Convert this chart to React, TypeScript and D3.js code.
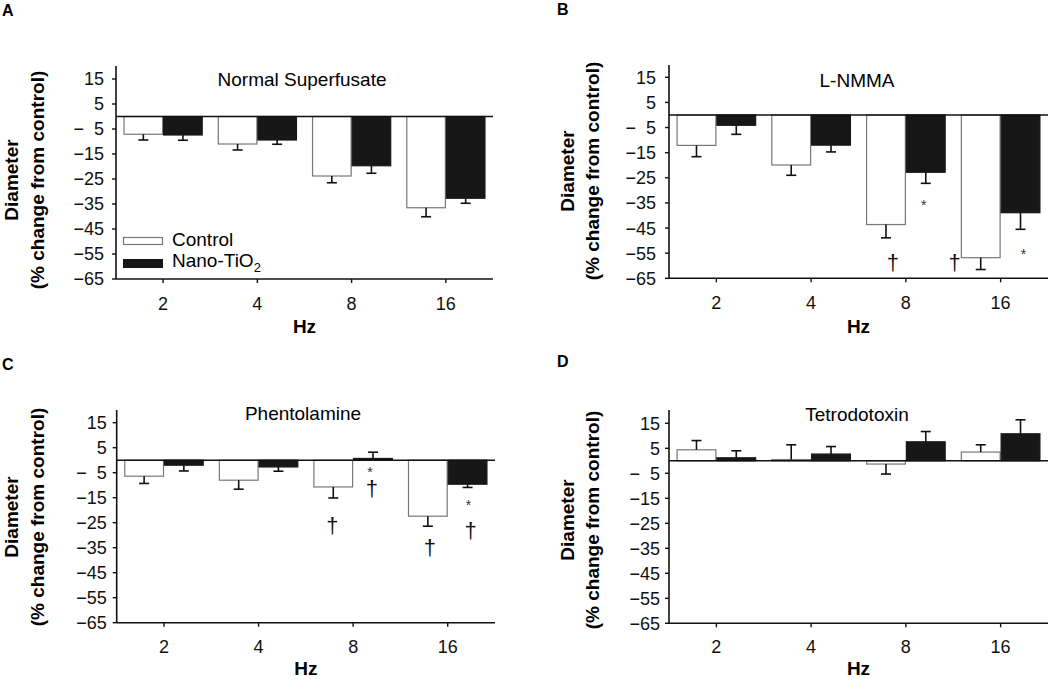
import React from 'react';
import * as d3 from 'd3';

// categories and tick labels
const frequencies = ['2', '4', '8', '16'];
const yTicks = [15, 5, -5, -15, -25, -35, -45, -55, -65];
const seriesNames = ['Control', 'Nano-TiO2'];

// A: normal superfusate (mean, SEM)
const normalControl = [-7.1, -11.0, -23.8, -36.5];
const normalControlErr = [2.3, 2.4, 2.7, 3.6];
const normalNano = [-7.4, -9.4, -19.7, -32.7];
const normalNanoErr = [2.1, 1.7, 3.0, 2.0];

// B: L-NMMA
const lnmmaControl = [-12.1, -19.9, -43.6, -56.8];
const lnmmaControlErr = [4.5, 4.1, 5.3, 4.7];
const lnmmaNano = [-4.1, -12.0, -22.8, -38.9];
const lnmmaNanoErr = [3.6, 2.7, 4.4, 6.6];

// C: phentolamine
const phentControl = [-6.4, -8.0, -10.7, -22.4];
const phentControlErr = [2.9, 3.6, 4.4, 4.0];
const phentNano = [-2.0, -2.7, 0.7, -9.6];
const phentNanoErr = [2.3, 1.7, 2.5, 1.3];

// D: tetrodotoxin
const ttxControl = [4.4, 0.5, -1.3, 3.5];
const ttxControlErr = [3.7, 5.9, 4.0, 2.9];
const ttxNano = [1.2, 2.7, 7.6, 10.8];
const ttxNanoErr = [2.8, 3.0, 4.1, 5.6];

type Mark = { group: number; series: number; symbol: string; y: number; dx: number };

const lnmmaMarks: Mark[] = [
  { group: 2, series: 1, symbol: '*', y: -35, dx: -2 },
  { group: 2, series: 0, symbol: '†', y: -59.5, dx: 7 },
  { group: 3, series: 0, symbol: '†', y: -59.5, dx: -26 },
  { group: 3, series: 1, symbol: '*', y: -54.7, dx: 3 },
];

const phentMarks: Mark[] = [
  { group: 2, series: 1, symbol: '*', y: -4, dx: -3 },
  { group: 2, series: 1, symbol: '†', y: -12, dx: -1 },
  { group: 2, series: 0, symbol: '†', y: -26.7, dx: -1 },
  { group: 3, series: 0, symbol: '†', y: -35.6, dx: 2 },
  { group: 3, series: 1, symbol: '*', y: -17.2, dx: 1 },
  { group: 3, series: 1, symbol: '†', y: -28.7, dx: 3 },
];

const FONT = '"Liberation Sans", Arial, Helvetica, sans-serif';

interface PanelProps {
  letter: string;
  title: string;
  control: number[];
  controlErr: number[];
  nano: number[];
  nanoErr: number[];
  marks?: Mark[];
  legend?: boolean;
  layout: {
    x0: number; x1: number; y15: number; y65: number; axisTop: number;
    titleX: number; titleY: number; labelGap: number;
    ytX: [number, number]; ytY: number; hzY: number; tickY: number;
    letterX: number; letterY: number;
  };
}

const fmt = (d: number) => {
  const a = Math.abs(d);
  if (d < 0) return '\u2212' + (a < 10 ? '\u2007' : '') + a;
  return String(a);
};

const Panel: React.FC<PanelProps> = ({ letter, title, control, controlErr, nano, nanoErr, marks = [], legend, layout }) => {
  const L = layout;
  const x = d3.scaleBand<string>().domain(frequencies).range([L.x0, L.x1]).paddingInner(0.16).paddingOuter(0.08);
  const outer = d3.scaleBand<string>().domain(frequencies).range([L.x0, L.x1]);
  const inner = d3.scaleBand<number>().domain([0, 1]).range([0, x.bandwidth()]);
  const y = d3.scaleLinear().domain([-65, 15]).range([L.y65, L.y15]);
  const zero = y(0);
  const bw = inner.bandwidth();
  const series = [
    { vals: control, errs: controlErr, fill: '#ffffff', stroke: '#777777' },
    { vals: nano, errs: nanoErr, fill: '#171717', stroke: '#171717' },
  ];
  const center = (g: number, s: number) => (x(frequencies[g]) as number) + (inner(s) as number) + bw / 2;

  return (
    <g fontFamily={FONT}>
      <text x={L.letterX} y={L.letterY} fontSize={16} fontWeight="bold">{letter}</text>
      <text x={L.titleX} y={L.titleY} fontSize={19} textAnchor="middle">{title}</text>

      {series.map((s, si) =>
        s.vals.map((v, gi) => {
          const cx = center(gi, si);
          const yv = y(v);
          const dir = v >= 0 ? 1 : -1;
          const ye = y(v + dir * s.errs[gi]);
          return (
            <g key={`${si}-${gi}`}>
              <rect
                x={cx - bw / 2 + 0.5}
                y={Math.min(zero, yv)}
                width={bw - 1}
                height={Math.abs(yv - zero)}
                fill={s.fill}
                stroke={s.stroke}
                strokeWidth={1.2}
              />
              <line x1={cx} x2={cx} y1={yv} y2={ye} stroke="#111" strokeWidth={1.6} />
              <line x1={cx - 5} x2={cx + 5} y1={ye} y2={ye} stroke="#111" strokeWidth={1.6} />
            </g>
          );
        })
      )}

      {/* zero line */}
      <line x1={L.x0} x2={L.x1} y1={zero} y2={zero} stroke="#111" strokeWidth={1.6} />

      {/* y axis */}
      <line x1={L.x0} x2={L.x0} y1={L.axisTop} y2={L.y65} stroke="#111" strokeWidth={1.6} />
      {yTicks.map((t) => (
        <g key={t}>
          <line x1={L.x0 - 4} x2={L.x0} y1={y(t)} y2={y(t)} stroke="#111" strokeWidth={1.4} />
          <text x={L.x0 - L.labelGap} y={y(t)} dy="0.36em" fontSize={18} textAnchor="end" fill="#111">{fmt(t)}</text>
        </g>
      ))}

      {/* x axis */}
      <line x1={L.x0} x2={L.x1} y1={L.y65} y2={L.y65} stroke="#111" strokeWidth={1.6} />
      {frequencies.map((f) => {
        const tx = (outer(f) as number) + outer.bandwidth() / 2;
        return (
          <g key={f}>
            <line x1={tx} x2={tx} y1={L.y65} y2={L.y65 + 4} stroke="#111" strokeWidth={1.4} />
            <text x={tx} y={L.tickY} fontSize={18} textAnchor="middle" fill="#111">{f}</text>
          </g>
        );
      })}
      <text x={(L.x0 + L.x1) / 2} y={L.hzY} fontSize={19} fontWeight="bold" textAnchor="middle">Hz</text>

      {/* y title */}
      <text transform={`translate(${L.ytX[0]},${L.ytY}) rotate(-90)`} fontSize={19} fontWeight="bold" textAnchor="middle" dominantBaseline="central">Diameter</text>
      <text transform={`translate(${L.ytX[1]},${L.ytY}) rotate(-90)`} fontSize={19} fontWeight="bold" textAnchor="middle" dominantBaseline="central">(% change from control)</text>

      {marks.map((m, i) => {
        const mx = center(m.group, m.series) + m.dx;
        const my = y(m.y);
        return m.symbol === '*' ? (
          <text key={i} x={mx} y={my + 7} fontSize={14} textAnchor="middle" fill="#333">*</text>
        ) : (
          <text key={i} x={mx} y={my + 6} fontSize={22} textAnchor="middle" fill="#111">†</text>
        );
      })}

      {legend && (
        <g>
          <rect x={L.x0 + 7.5} y={237.5} width={39} height={7} fill="#fff" stroke="#777" strokeWidth={1.2} />
          <rect x={L.x0 + 7} y={259} width={40} height={9} fill="#171717" />
          <text x={L.x0 + 56} y={246} fontSize={19}>{seriesNames[0]}</text>
          <text x={L.x0 + 56} y={267} fontSize={19}>
            Nano-TiO<tspan fontSize={13} dy={5}>2</tspan>
          </text>
        </g>
      )}
    </g>
  );
};

export default function App() {
  return (
    <svg width={1050} height={679} style={{ position: 'absolute', left: 0, top: 0, background: '#fff' }}>
      <rect width={1050} height={679} fill="#fff" />
      <Panel
        letter="A" title="Normal Superfusate" legend
        control={normalControl} controlErr={normalControlErr} nano={normalNano} nanoErr={normalNanoErr}
        layout={{ x0: 116, x1: 493, y15: 79, y65: 279, axisTop: 66, titleX: 302, titleY: 86, labelGap: 12,
          ytX: [11, 37], ytY: 180, hzY: 333, tickY: 310, letterX: 2, letterY: 16 }}
      />
      <Panel
        letter="B" title="L-NMMA" marks={lnmmaMarks}
        control={lnmmaControl} controlErr={lnmmaControlErr} nano={lnmmaNano} nanoErr={lnmmaNanoErr}
        layout={{ x0: 669, x1: 1048, y15: 77.3, y65: 278.3, axisTop: 65, titleX: 857, titleY: 87, labelGap: 13,
          ytX: [567, 592], ytY: 171, hzY: 333, tickY: 309, letterX: 557, letterY: 15 }}
      />
      <Panel
        letter="C" title="Phentolamine" marks={phentMarks}
        control={phentControl} controlErr={phentControlErr} nano={phentNano} nanoErr={phentNanoErr}
        layout={{ x0: 116.7, x1: 495, y15: 422.7, y65: 622.7, axisTop: 410, titleX: 303, titleY: 420, labelGap: 10,
          ytX: [11, 37], ytY: 517, hzY: 675, tickY: 653, letterX: 2, letterY: 370 }}
      />
      <Panel
        letter="D" title="Tetrodotoxin"
        control={ttxControl} controlErr={ttxControlErr} nano={ttxNano} nanoErr={ttxNanoErr}
        layout={{ x0: 669, x1: 1048, y15: 423.3, y65: 623.3, axisTop: 410, titleX: 857, titleY: 421, labelGap: 9,
          ytX: [567, 592], ytY: 520, hzY: 675, tickY: 653, letterX: 557, letterY: 367 }}
      />
    </svg>
  );
}
